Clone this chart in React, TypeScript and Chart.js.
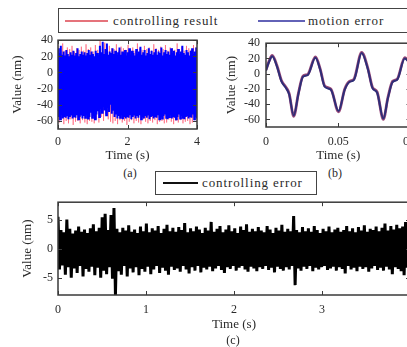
import React, { useEffect, useRef } from "react";
import { Chart, registerables } from "chart.js";

Chart.register(...registerables);

// ---------- data ----------
// (a) motion error: upper and lower swings of the dense trace, 0..4 s
const motionPeaksA = [
  30, 24, 33, 22, 26, 21, 28, 23, 20, 25,
  22, 27, 21, 24, 30, 20, 23, 26, 22, 25,
  21, 24, 28, 22, 26, 23, 20, 27, 24, 22,
  33, 25, 38, 23, 29, 36, 22, 26, 24, 30,
  23, 27, 21, 25, 31, 22, 26, 24, 28, 21,
  25, 30, 22, 27, 24, 21, 29, 23, 26, 32,
  22, 25, 28, 21, 24, 30, 23, 27, 22, 25,
  29, 22, 26, 24, 31, 21, 25, 28, 23, 26,
  22, 30, 24, 27, 21, 25, 29, 23, 26, 33,
  24, 22, 28, 25, 21, 27, 30, 23, 26, 31,
];
const motionTroughsA = [
  -55, -58, -52, -57, -54, -56, -53, -58, -55, -52,
  -57, -54, -56, -53, -58, -55, -52, -57, -54, -56,
  -53, -57, -55, -50, -56, -54, -58, -52, -48, -55,
  -45, -50, -42, -47, -53, -44, -49, -40, -51, -46,
  -55, -52, -57, -54, -56, -53, -58, -55, -57, -54,
  -56, -53, -58, -55, -52, -57, -54, -56, -53, -58,
  -55, -57, -54, -56, -52, -58, -55, -53, -57, -54,
  -56, -53, -58, -55, -57, -54, -52, -56, -58, -55,
  -53, -57, -54, -56, -58, -55, -52, -57, -54, -56,
  -58, -55, -53, -57, -54, -56, -52, -58, -55, -57,
];
// (a) controlling result
const resultPeaksA = [
  34, 28, 36, 27, 31, 29, 33, 26, 30, 28, 32, 27, 35, 29, 31, 26, 34, 28, 40, 30,
  37, 28, 33, 30, 29, 35, 27, 32, 30, 28, 34, 29, 31, 27, 36, 30, 28, 33, 29, 31,
  27, 35, 30, 28, 32, 29, 34, 27, 31, 30, 28, 36, 29, 32, 27, 33, 30, 28, 34, 31,
];
const resultTroughsA = [
  -62, -59, -64, -60, -63, -58, -65, -61, -60, -63, -59, -62, -64, -60, -61, -63, -58, -62, -55, -60,
  -52, -58, -61, -63, -60, -64, -59, -62, -60, -65, -61, -59, -63, -60, -62, -64, -58, -61, -63, -60,
  -62, -59, -64, -61, -60, -63, -62, -58, -61, -64, -60, -62, -59, -63, -61, -60, -64, -62, -59, -61,
];

// (b) zoomed view, 0..0.1 s
const timeB = [
  0, 0.002, 0.0043, 0.0075, 0.0107, 0.0139, 0.016, 0.0192, 0.0224, 0.0256,
  0.0288, 0.0342, 0.0374, 0.0406, 0.0449, 0.0502, 0.0545, 0.0577, 0.0609, 0.0662,
  0.0705, 0.0737, 0.0769, 0.0812, 0.0844, 0.0876, 0.0908, 0.096, 0.1,
];
const motionB = [
  4, 15, 23, 10, -10, -19, -27, -55, -27, -4,
  -2, 21, 6, -17, -21, -49, -21, -11, -8, 27,
  6, -19, -25, -59, -32, -11, -8, 20, 12,
];
const resultB = [
  5, 16, 24, 11, -9, -18, -26, -56, -26, -3,
  -1, 22, 7, -16, -20, -50, -20, -10, -7, 28,
  7, -18, -24, -60, -31, -10, -7, 21, 13,
];

// (c) controlling error, 0..4 s
const errorPeaksC = [
  5.5, 3.2, 2.8, 5.0, 3.4, 2.6, 3.1, 3.8, 2.9, 3.3,
  2.7, 3.5, 4.2, 3.0, 3.6, 5.4, 6.0, 3.2, 5.8, 7.0,
  3.4, 2.8, 3.6, 3.1, 4.0, 2.9, 3.3, 2.7, 3.8, 3.0,
  4.3, 2.8, 3.5, 3.1, 3.9, 2.7, 3.4, 4.1, 3.0, 3.6,
  2.9, 3.7, 3.2, 4.4, 2.8, 3.5, 3.0, 3.8, 3.3, 2.7,
  3.6, 3.1, 4.6, 2.9, 3.4, 3.9, 2.8, 3.3, 4.0, 3.0,
  3.5, 2.7, 3.8, 3.2, 4.2, 2.9, 3.4, 3.0, 3.7, 3.1,
  2.8, 3.9, 3.3, 2.7, 3.6, 3.1, 4.1, 2.9, 3.4, 3.0,
  5.6, 3.2, 2.8, 3.7, 3.0, 3.5, 2.9, 3.9, 3.2, 2.7,
  3.4, 3.0, 3.8, 2.8, 3.3, 3.6, 2.9, 3.2, 3.9, 3.0,
  3.5, 2.8, 3.7, 3.1, 4.0, 2.9, 3.4, 3.2, 3.8, 3.0,
  3.6, 4.3, 3.1, 3.9, 3.3, 4.1, 3.5, 3.8, 4.6, 5.0,
];
const errorTroughsC = [
  -3.6, -2.9, -4.5, -3.2, -5.0, -3.4, -4.2, -3.0, -4.8, -3.5,
  -4.0, -3.1, -4.6, -3.3, -5.0, -3.8, -4.4, -3.2, -5.2, -8.0,
  -3.9, -4.5, -3.0, -4.8, -3.4, -4.1, -3.2, -4.6, -3.5, -4.0,
  -3.1, -4.4, -3.6, -3.0, -4.2, -3.3, -3.8, -4.5, -3.1, -3.7,
  -3.4, -4.0, -3.0, -3.6, -4.3, -3.2, -3.8, -3.0, -4.1, -3.3,
  -3.6, -3.1, -3.9, -3.4, -3.0, -3.7, -4.2, -3.2, -3.5, -3.0,
  -3.8, -3.3, -3.0, -3.6, -4.0, -3.1, -3.4, -3.9, -3.2, -3.5,
  -3.0, -3.7, -3.3, -4.1, -3.1, -3.5, -3.8, -3.2, -3.6, -3.0,
  -6.3, -3.4, -3.8, -3.1, -3.5, -3.0, -3.9, -3.3, -3.6, -3.2,
  -3.0, -3.7, -3.4, -3.1, -3.8, -3.2, -3.5, -4.3, -3.0, -3.6,
  -3.3, -3.9, -3.1, -3.5, -3.2, -4.0, -3.4, -3.0, -3.7, -3.3,
  -3.8, -3.1, -3.6, -4.4, -3.2, -3.5, -3.9, -4.6, -3.3, -3.7,
];

// tick labels
const xTicksA = [0, 2, 4];
const yTicksAB = [40, 20, 0, -20, -40, -60];
const xTicksB = [0, 0.05, 0.1];
const xTicksC = [0, 1, 2, 3, 4];
const yTicksC = [5, 0, -5];

const seriesNames = ["controlling result", "motion error", "controlling error"];
const yTitle = "Value (nm)";
const xTitle = "Time (s)";

// ---------- helpers ----------
const FONT = "'Liberation Serif', 'Times New Roman', 'DejaVu Serif', serif";
const TXT = "#2a2a2a";

function zigzag(peaks: number[], troughs: number[], tMax: number) {
  const n = peaks.length * 2;
  const pts: { x: number; y: number }[] = [];
  for (let i = 0; i < peaks.length; i++) {
    pts.push({ x: ((2 * i) * tMax) / (n - 1), y: peaks[i] });
    pts.push({ x: ((2 * i + 1) * tMax) / (n - 1), y: troughs[i] });
  }
  return pts;
}

const framePlugin = {
  id: "matlabFrame",
  afterDraw(chart: any) {
    const { ctx, chartArea: a, scales } = chart;
    ctx.save();
    ctx.strokeStyle = "#3a3a3a";
    ctx.lineWidth = 1.5;
    ctx.strokeRect(a.left, a.top, a.right - a.left, a.bottom - a.top);
    ctx.lineWidth = 1;
    const L = 4;
    ctx.beginPath();
    scales.x.ticks.forEach((t: any) => {
      const p = Math.round(scales.x.getPixelForValue(t.value)) + 0.5;
      ctx.moveTo(p, a.bottom);
      ctx.lineTo(p, a.bottom - L);
      ctx.moveTo(p, a.top);
      ctx.lineTo(p, a.top + L);
    });
    scales.y.ticks.forEach((t: any) => {
      const p = Math.round(scales.y.getPixelForValue(t.value)) + 0.5;
      ctx.moveTo(a.left, p);
      ctx.lineTo(a.left + L, p);
      ctx.moveTo(a.right, p);
      ctx.lineTo(a.right - L, p);
    });
    ctx.stroke();
    ctx.restore();
  },
};

function xScale(min: number, max: number, ticks: number[], h: number, tickPad: number) {
  return {
    type: "linear",
    min,
    max,
    grid: { display: false, drawTicks: false },
    border: { display: false },
    afterBuildTicks: (s: any) => {
      s.ticks = ticks.map((v) => ({ value: v }));
    },
    afterFit: (s: any) => {
      s.height = h;
    },
    ticks: {
      padding: tickPad,
      autoSkip: false,
      maxRotation: 0,
      color: TXT,
      font: { family: FONT, size: 12 },
      callback: (v: any) => String(v),
    },
    title: {
      display: true,
      text: xTitle,
      color: TXT,
      font: { family: FONT, size: 13 },
      padding: { top: 0, bottom: 1 },
    },
  };
}

function yScale(min: number, max: number, ticks: number[], w: number, tickPad: number, titlePad: number) {
  return {
    type: "linear",
    min,
    max,
    grid: { display: false, drawTicks: false },
    border: { display: false },
    afterBuildTicks: (s: any) => {
      s.ticks = ticks.map((v) => ({ value: v }));
    },
    afterFit: (s: any) => {
      s.width = w;
    },
    ticks: {
      padding: tickPad,
      autoSkip: false,
      color: TXT,
      font: { family: FONT, size: 12 },
      callback: (v: any) => String(v),
    },
    title: {
      display: true,
      text: yTitle,
      color: TXT,
      font: { family: FONT, size: 13 },
      padding: { top: titlePad, bottom: 0 },
    },
  };
}

function baseOptions(x: any, y: any, pad: any) {
  return {
    responsive: false,
    animation: false,
    events: [],
    layout: { padding: pad },
    plugins: { legend: { display: false }, tooltip: { enabled: false } },
    elements: { point: { radius: 0 } },
    scales: { x, y },
  };
}

function useChart(ref: React.RefObject<HTMLCanvasElement>, make: () => any) {
  useEffect(() => {
    if (!ref.current) return;
    const chart = new Chart(ref.current, make());
    return () => chart.destroy();
  }, []);
}

export default function App() {
  const refA = useRef<HTMLCanvasElement>(null);
  const refB = useRef<HTMLCanvasElement>(null);
  const refC = useRef<HTMLCanvasElement>(null);

  // note: in Chart.js a lower `order` is drawn on top
  useChart(refA, () => ({
    type: "line",
    data: {
      datasets: [
        {
          label: seriesNames[0],
          data: zigzag(resultPeaksA, resultTroughsA, 4),
          borderColor: "rgba(255,60,90,0.5)",
          borderWidth: 1,
          tension: 0,
          order: 2,
        },
        {
          label: seriesNames[1],
          data: zigzag(motionPeaksA, motionTroughsA, 4),
          borderColor: "#0000ff",
          borderWidth: 2,
          tension: 0,
          order: 1,
        },
      ],
    },
    options: baseOptions(
      xScale(0, 4, xTicksA, 35, 6),
      yScale(-70, 40, yTicksAB, 58, 5, 10),
      { top: 10, right: 4, left: 0, bottom: 0 }
    ),
    plugins: [framePlugin],
  }));

  useChart(refB, () => ({
    type: "line",
    data: {
      datasets: [
        {
          label: seriesNames[0],
          data: timeB.map((t, i) => ({ x: t, y: resultB[i] })),
          borderColor: "#9a4a7a",
          borderWidth: 2.8,
          cubicInterpolationMode: "monotone",
          order: 2,
        },
        {
          label: seriesNames[1],
          data: timeB.map((t, i) => ({ x: t, y: motionB[i] })),
          borderColor: "#2e2e78",
          borderWidth: 2,
          cubicInterpolationMode: "monotone",
          order: 1,
        },
      ],
    },
    options: baseOptions(
      xScale(0, 0.1, xTicksB, 37, 8),
      yScale(-70, 40, yTicksAB, 60, 6, 18),
      { top: 10, right: 13, left: 0, bottom: 0 }
    ),
    plugins: [framePlugin],
  }));

  useChart(refC, () => ({
    type: "line",
    data: {
      datasets: [
        {
          label: seriesNames[2],
          data: zigzag(errorPeaksC, errorTroughsC, 4),
          borderColor: "#000000",
          borderWidth: 3,
          tension: 0,
        },
      ],
    },
    options: baseOptions(
      xScale(0, 4, xTicksC, 38, 8),
      yScale(-8, 8, yTicksC, 58, 5, 20),
      { top: 10, right: 15, left: 0, bottom: 0 }
    ),
    plugins: [framePlugin],
  }));

  const abs = (l: number, t: number): React.CSSProperties => ({ position: "absolute", left: l, top: t });
  const text: React.CSSProperties = {
    fontFamily: FONT,
    fontSize: 13,
    color: TXT,
    letterSpacing: 0.9,
    whiteSpace: "nowrap",
    lineHeight: "14px",
  };
  const caption = (cx: number, cy: number, s: string) => (
    <div
      style={{
        ...abs(cx, cy),
        transform: "translate(-50%,-50%)",
        fontFamily: FONT,
        fontSize: 12,
        color: TXT,
        whiteSpace: "nowrap",
      }}
    >
      {s}
    </div>
  );

  return (
    <div
      style={{
        position: "absolute",
        left: 0,
        top: 0,
        width: 407,
        height: 347,
        overflow: "hidden",
        background: "#ffffff",
      }}
    >
      <canvas ref={refA} width={206} height={136} style={abs(0, 28)} />
      <canvas ref={refB} width={220} height={134} style={abs(206, 30)} />
      <canvas ref={refC} width={425} height={143} style={abs(0, 190)} />

      {/* top legend */}
      <div
        style={{
          ...abs(58, 8),
          width: 360,
          height: 25,
          boxSizing: "border-box",
          border: "1.5px solid #444",
          background: "#fff",
        }}
      />
      <div style={{ ...abs(65, 20), width: 43, height: 2, background: "rgba(225,90,100,0.85)" }} />
      <div style={{ ...abs(113, 14), ...text }}>{seriesNames[0]}</div>
      <div style={{ ...abs(258, 20), width: 47, height: 2, background: "rgba(70,70,170,0.85)" }} />
      <div style={{ ...abs(308, 14), ...text }}>{seriesNames[1]}</div>

      {/* bottom legend */}
      <div
        style={{
          ...abs(155, 171),
          width: 162,
          height: 24,
          boxSizing: "border-box",
          border: "1.5px solid #444",
          background: "#fff",
        }}
      />
      <div style={{ ...abs(163, 182), width: 35, height: 2, background: "#111" }} />
      <div style={{ ...abs(202, 176), ...text }}>{seriesNames[2]}</div>

      {caption(130, 173, "(a)")}
      {caption(335, 173, "(b)")}
      {caption(233, 340, "(c)")}
    </div>
  );
}
